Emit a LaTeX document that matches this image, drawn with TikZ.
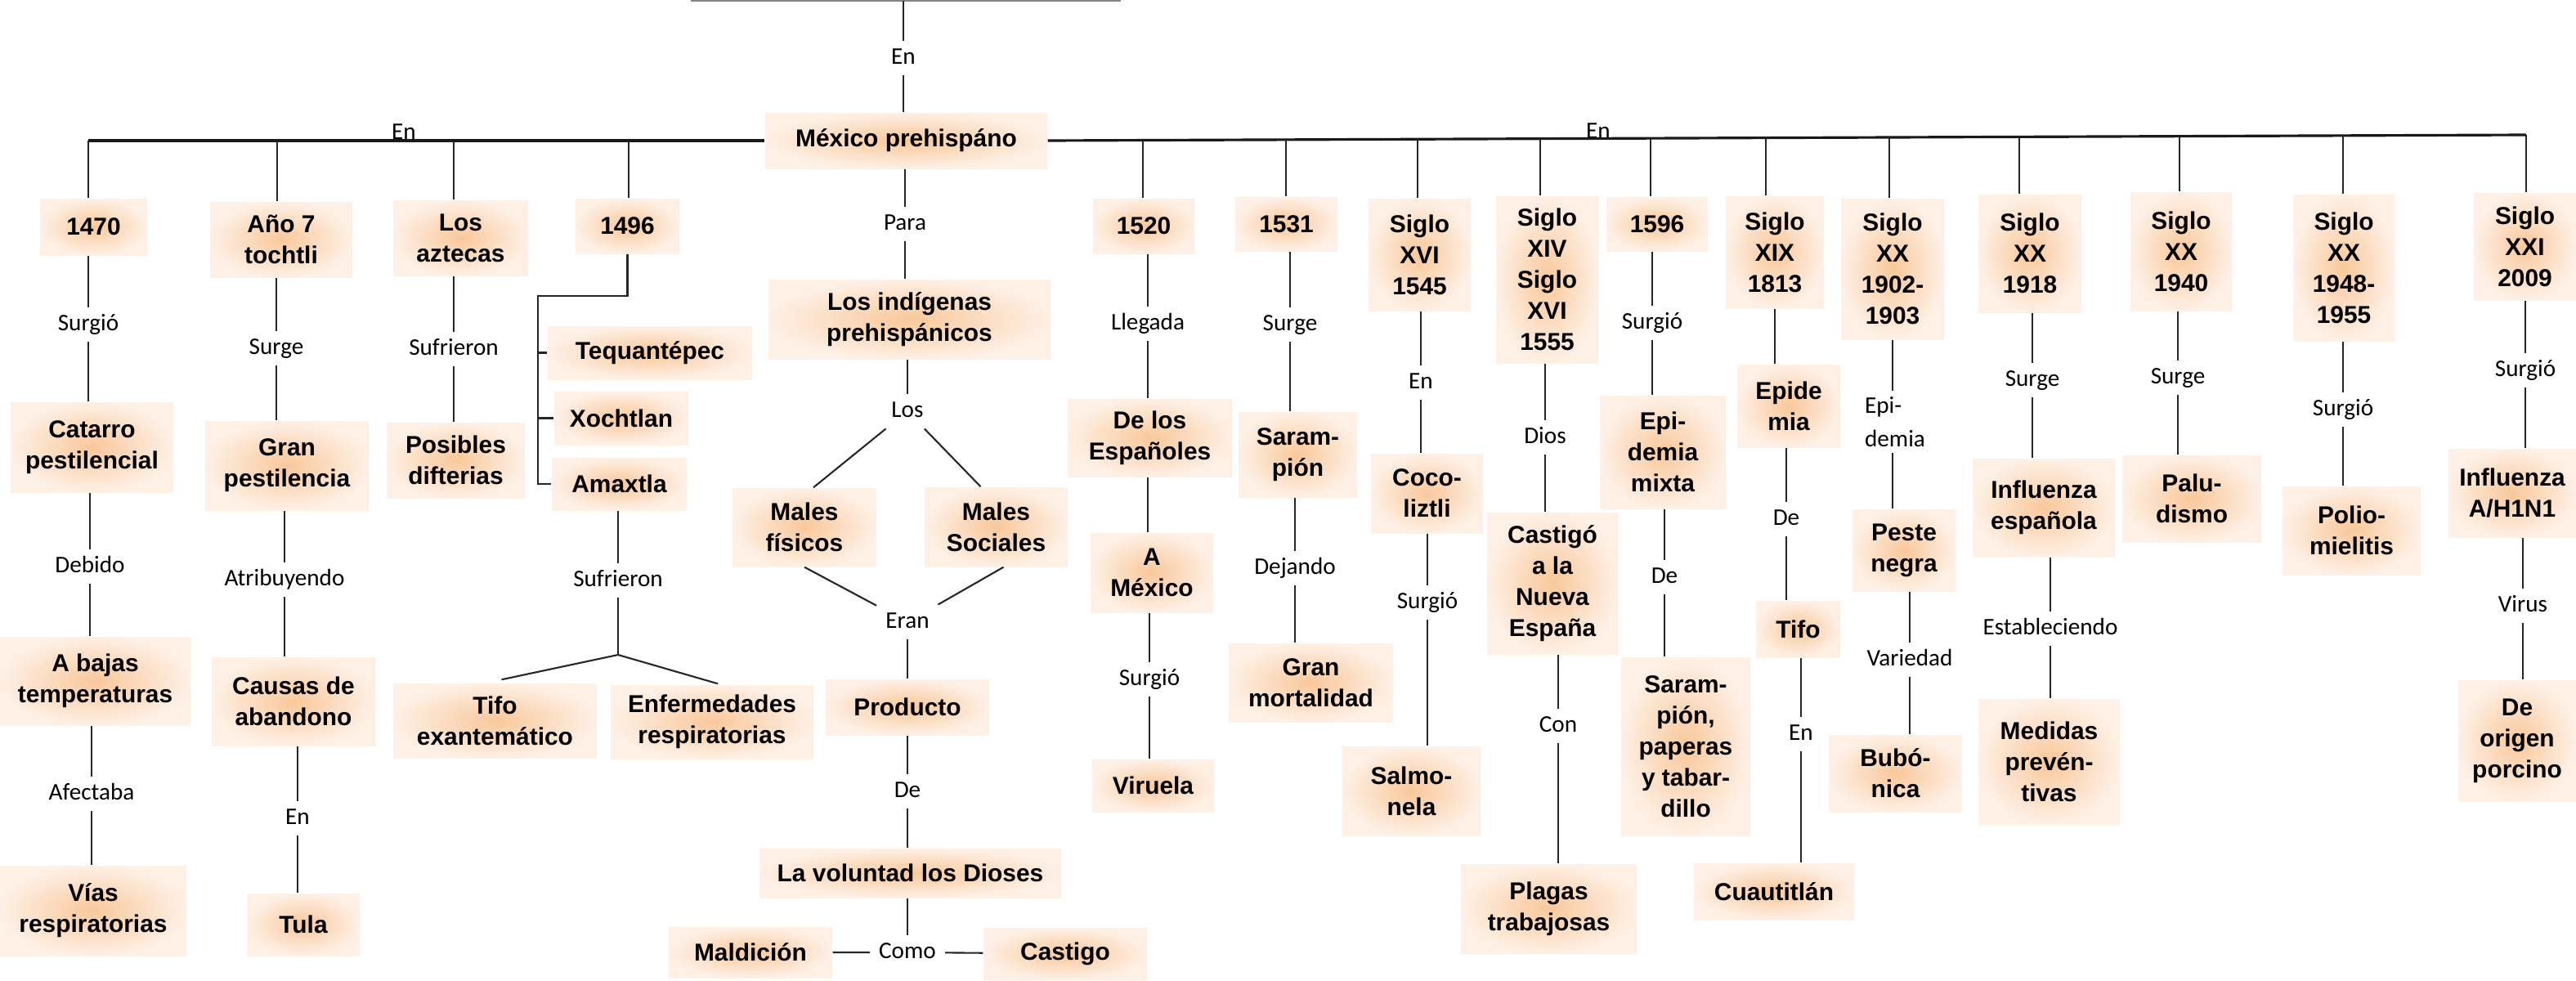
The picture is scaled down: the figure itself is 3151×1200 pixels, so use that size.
\documentclass[tikz,border=0pt]{standalone}
\usepackage{fontspec}
\setmainfont{Liberation Sans}
\newfontfamily\lblfont{Carlito}
\usetikzlibrary{calc}
\definecolor{bxin}{RGB}{249,200,155}
\definecolor{bxout}{RGB}{254,240,229}
\definecolor{topgray}{RGB}{125,135,140}
\tikzset{
  bx/.style={shading=radial, inner color=bxin, outer color=bxout, inner sep=0pt, align=center,
    font=\fontsize{8.5}{10.8}\selectfont\bfseries},
  lb/.style={fill=white, font=\lblfont\fontsize{8.3}{10}\selectfont,
    inner xsep=3pt, inner ysep=2pt, text height=6pt, text depth=1.8pt},
  lbtwo/.style={fill=white, font=\lblfont\fontsize{8.3}{11.7}\selectfont,
    inner xsep=2pt, inner ysep=2pt, align=left},
  lbn/.style={font=\lblfont\fontsize{8.3}{10}\selectfont, inner sep=1pt},
  cn/.style={draw=black!85, line width=0.6pt},
  mainln/.style={draw=black!90, line width=0.9pt},
}
\newcommand\mybox[6]{\node[bx, minimum width={(#4-#3)*0.01cm}, minimum height={(#6-#5)*0.01cm}] (#1) at ({(#3+#4)/2},{-(#5+#6)/2}) {#2};}
\newcommand\mylbl[4]{\node[lb] (#1) at (#3,-#4) {#2};}
\begin{document}
\begin{tikzpicture}[x=0.01cm,y=0.01cm]
\useasboundingbox (0,0) rectangle (3151,-1200);
% top partial box edge
\draw[topgray, line width=0.7pt] (845,-1) -- (1371,-1);
\coordinate (topbox) at (1105,-1);
% ---------- boxes ----------
\mybox{mex}{México prehispáno}{936}{1281}{138}{206}
\mybox{b1470}{1470}{49}{180}{243}{312}
\mybox{bano}{Año 7\\tochtli}{257}{431}{247}{339}
\mybox{bazt}{Los\\aztecas}{481}{646}{245}{337}
\mybox{b1496}{1496}{704}{831}{243}{310}
\mybox{catarro}{Catarro\\pestilencial}{13}{212}{492}{602}
\mybox{abajas}{A bajas\\temperaturas}{0}{233}{779}{887}
\mybox{vias}{Vías\\respiratorias}{0}{228}{1059}{1169}
\mybox{granp}{Gran\\pestilencia}{251}{451}{515}{624}
\mybox{causas}{Causas de\\abandono}{259}{459}{804}{912}
\mybox{tula}{Tula}{302}{440}{1093}{1169}
\mybox{posibles}{Posibles\\difterias}{473}{642}{517}{609}
\mybox{teq}{Tequantépec}{670}{920}{399}{464}
\mybox{xoch}{Xochtlan}{678}{842}{479}{544}
\mybox{amax}{Amaxtla}{675}{840}{560}{624}
\mybox{tifoa}{Tifo\\exantemático}{481}{730}{836}{927}
\mybox{enf}{Enfermedades\\respiratorias}{747}{995}{838}{928}
\mybox{indig}{Los indígenas\\prehispánicos}{940}{1285}{342}{439}
\mybox{mf}{Males\\físicos}{896}{1072}{597}{693}
\mybox{ms}{Males\\Sociales}{1131}{1306}{596}{693}
\mybox{prod}{Producto}{1010}{1210}{831}{899}
\mybox{volu}{La voluntad los Dioses}{929}{1298}{1038}{1098}
\mybox{mald}{Maldición}{818}{1018}{1134}{1196}
\mybox{cast}{Castigo}{1203}{1403}{1135}{1198}
\mybox{b1520}{1520}{1337}{1461}{243}{310}
\mybox{b1531}{1531}{1511}{1636}{241}{307}
\mybox{b1545}{Siglo\\XVI\\1545}{1674}{1799}{243}{380}
\mybox{b1555}{Siglo\\XIV\\Siglo\\XVI\\1555}{1830}{1955}{240}{444}
\mybox{b1596}{1596}{1965}{2089}{241}{307}
\mybox{b1813}{Siglo\\XIX\\1813}{2111}{2231}{240}{377}
\mybox{b1902}{Siglo\\XX\\1902-\\1903}{2252}{2378}{243}{415}
\mybox{b1918}{Siglo\\XX\\1918}{2420}{2546}{238}{382}
\mybox{b1940}{Siglo\\XX\\1940}{2606}{2730}{235}{380}
\mybox{b1948}{Siglo\\XX\\1948-\\1955}{2805}{2929}{238}{417}
\mybox{b2009}{Siglo\\XXI\\2009}{3026}{3151}{236}{367}
\mybox{esp}{De los\\Españoles}{1306}{1507}{488}{583}
\mybox{amex}{A\\México}{1334}{1484}{652}{749}
\mybox{viru}{Viruela}{1336}{1485}{929}{993}
\mybox{saram}{Saram-\\pión}{1515}{1660}{504}{608}
\mybox{granm}{Gran\\mortalidad}{1503}{1704}{787}{883}
\mybox{coco}{Coco-\\liztli}{1677}{1814}{555}{652}
\mybox{salmo}{Salmo-\\nela}{1642}{1811}{913}{1022}
\mybox{castb}{Castigó\\a la\\Nueva\\España}{1819}{1979}{627}{800}
\mybox{plagas}{Plagas\\trabajosas}{1787}{2002}{1057}{1166}
\mybox{epimix}{Epi-\\demia\\mixta}{1957}{2111}{484}{622}
\mybox{sarpap}{Saram-\\pión,\\paperas\\y tabar-\\dillo}{1983}{2141}{804}{1022}
\mybox{epide}{Epide\\mia}{2125}{2251}{446}{547}
\mybox{tifob}{Tifo}{2148}{2251}{735}{804}
\mybox{cuau}{Cuautitlán}{2072}{2268}{1056}{1125}
\mybox{peste}{Peste\\negra}{2266}{2392}{623}{723}
\mybox{bubo}{Bubó-\\nica}{2237}{2400}{899}{993}
\mybox{infesp}{Influenza\\española}{2413}{2587}{561}{681}
\mybox{medidas}{Medidas\\prevén-\\tivas}{2420}{2593}{855}{1008}
\mybox{palu}{Palu-\\dismo}{2596}{2766}{557}{663}
\mybox{polio}{Polio-\\mielitis}{2792}{2961}{595}{703}
\mybox{hn}{Influenza\\A/H1N1}{2995}{3151}{549}{657}
\mybox{porc}{De\\origen\\porcino}{3007}{3151}{832}{980}
% ---------- labels ----------
\mylbl{lEnTop}{En}{1105}{71}
\mylbl{lPara}{Para}{1107}{274}
\mylbl{la}{Surgió}{108}{397}
\mylbl{lb}{Debido}{110}{693}
\mylbl{lc}{Afectaba}{112}{971}
\mylbl{ld}{Surge}{338}{426}
\mylbl{le}{Atribuyendo}{348}{709}
\mylbl{lf}{En}{364}{1001}
\mylbl{lg}{Sufrieron}{555}{427}
\mylbl{lh}{Sufrieron}{756}{710}
\mylbl{lLos}{Los}{1110}{503}
\mylbl{lEran}{Eran}{1110}{761}
\mylbl{lDe}{De}{1110}{968}
\mylbl{lComo}{Como}{1110}{1165}
\mylbl{lLleg}{Llegada}{1404}{396}
\mylbl{lSurgA}{Surgió}{1406}{831}
\mylbl{lSurgeB}{Surge}{1578}{397}
\mylbl{lDej}{Dejando}{1584}{695}
\mylbl{lEnC}{En}{1738}{468}
\mylbl{lSurgC}{Surgió}{1746}{737}
\mylbl{lDios}{Dios}{1890}{535}
\mylbl{lCon}{Con}{1906}{888}
\mylbl{lSurgD}{Surgió}{2021}{395}
\mylbl{lDeD}{De}{2036}{706}
\mylbl{lDeE}{De}{2185}{635}
\mylbl{lEnE}{En}{2203}{898}
\node[lbtwo] (lEpi) at (2318,-516) {Epi-\\demia};
\mylbl{lVar}{Variedad}{2336}{807}
\mylbl{lSurgeF}{Surge}{2486}{465}
\mylbl{lEst}{Estableciendo}{2508}{769}
\mylbl{lSurgeG}{Surge}{2664}{462}
\mylbl{lSurgH}{Surgió}{2866}{501}
\mylbl{lSurgI}{Surgió}{3089}{453}
\mylbl{lVirus}{Virus}{3086}{741}
\node[lbn] (lEnL) at (494,-161) {En};
\node[lbn] (lEnR) at (1955,-160) {En};
% ---------- main line ----------
\coordinate (tl1) at (108,-172);
\coordinate (tl2) at (339,-172);
\coordinate (tl3) at (555,-172);
\coordinate (tl4) at (769,-172);
\coordinate (tr1) at (1398,-171.6);
\coordinate (tr2) at (1573,-170.9);
\coordinate (tr3) at (1734,-170.3);
\coordinate (tr4) at (1884,-169.7);
\coordinate (tr5) at (2019,-169.2);
\coordinate (tr6) at (2160,-168.6);
\coordinate (tr7) at (2311,-168.0);
\coordinate (tr8) at (2470,-167.5);
\coordinate (tr9) at (2666,-166.7);
\coordinate (tr10) at (2866,-165.9);
\coordinate (tr11) at (3090,-165.0);
\draw[mainln] (tl1) -- (mex.west);
\draw[mainln] (mex.east) -- (tr11);
\foreach \c/\b in {tl1/b1470,tl2/bano,tl3/bazt,tl4/b1496,tr1/b1520,tr2/b1531,tr3/b1545,tr4/b1555,tr5/b1596,tr6/b1813,tr7/b1902,tr8/b1918,tr9/b1940,tr10/b1948,tr11/b2009}
  \draw[cn] (\c) -- (\c |- \b.north);
\draw[cn] (topbox) -- (lEnTop) -- (lEnTop |- mex.north);
% ---------- left columns ----------
\draw[cn] (b1470.south -| la) -- (la) -- (la |- catarro.north);
\draw[cn] (catarro.south -| lb) -- (lb) -- (lb |- abajas.north);
\draw[cn] (abajas.south -| lc) -- (lc) -- (lc |- vias.north);
\draw[cn] (bano.south -| ld) -- (ld) -- (ld |- granp.north);
\draw[cn] (granp.south -| le) -- (le) -- (le |- causas.north);
\draw[cn] (causas.south -| lf) -- (lf) -- (lf |- tula.north);
\draw[cn] (bazt.south -| lg) -- (lg) -- (lg |- posibles.north);
\coordinate (brk) at (658,-362);
\draw[cn] (b1496.south) |- (brk) |- (amax.west);
\draw[cn] (brk |- teq.west) -- (teq.west);
\draw[cn] (brk |- xoch.west) -- (xoch.west);
\coordinate (brp) at (756,-801);
\draw[cn] (amax.south -| lh) -- (lh) -- (brp);
\draw[cn] ($(tifoa.north)+(8,4)$) -- (brp) -- ($(enf.north)+(7,1)$);
% ---------- centre ----------
\draw[cn] (mex.south -| lPara) -- (lPara) -- (lPara |- indig.north);
\draw[cn] (indig.south -| lLos) -- (lLos);
\draw[cn] (lLos) -- ($(mf.north)+(11,0)$);
\draw[cn] (lLos) -- ($(ms.north)+(-19,0)$);
\draw[cn] (mf.south) -- (lEran) -- ($(ms.south)+(9,0)$);
\draw[cn] (lEran) -- (lEran |- prod.north);
\draw[cn] (prod.south -| lDe) -- (lDe) -- (lDe |- volu.north);
\draw[cn] (volu.south -| lComo) -- (lComo);
\draw[cn] (mald) -- (lComo) -- (cast);
% ---------- right columns ----------
\draw[cn] (b1520.south -| lLleg) -- (lLleg) -- (lLleg |- esp.north);
\draw[cn] (esp.south -| lLleg) -- (lLleg |- amex.north);
\draw[cn] (amex.south -| lSurgA) -- (lSurgA) -- (lSurgA |- viru.north);
\draw[cn] (b1531.south -| lSurgeB) -- (lSurgeB) -- (lSurgeB |- saram.north);
\draw[cn] (saram.south -| lDej) -- (lDej) -- (lDej |- granm.north);
\draw[cn] (b1545.south -| lEnC) -- (lEnC) -- (lEnC |- coco.north);
\draw[cn] (coco.south -| lSurgC) -- (lSurgC) -- (lSurgC |- salmo.north);
\draw[cn] (b1555.south -| lDios) -- (lDios) -- (lDios |- castb.north);
\draw[cn] (castb.south -| lCon) -- (lCon) -- (lCon |- plagas.north);
\draw[cn] (b1596.south -| lSurgD) -- (lSurgD) -- (lSurgD |- epimix.north);
\draw[cn] (epimix.south -| lDeD) -- (lDeD) -- (lDeD |- sarpap.north);
\draw[cn] (b1813.south) -- (b1813.south |- epide.north);
\draw[cn] (epide.south -| lDeE) -- (lDeE) -- (lDeE |- tifob.north);
\draw[cn] (tifob.south -| lEnE) -- (lEnE) -- (lEnE |- cuau.north);
\draw[cn] (b1902.south) -- (b1902.south |- lEpi.north);
\draw[cn] (lEpi.south -| b1902.south) -- (b1902.south |- peste.north);
\draw[cn] (peste.south -| lVar) -- (lVar) -- (lVar |- bubo.north);
\draw[cn] (b1918.south -| lSurgeF) -- (lSurgeF) -- (lSurgeF |- infesp.north);
\draw[cn] (infesp.south -| lEst) -- (lEst) -- (lEst |- medidas.north);
\draw[cn] (b1940.south -| lSurgeG) -- (lSurgeG) -- (lSurgeG |- palu.north);
\draw[cn] (b1948.south -| lSurgH) -- (lSurgH) -- (lSurgH |- polio.north);
\draw[cn] (b2009.south -| lSurgI) -- (lSurgI) -- (lSurgI |- hn.north);
\draw[cn] (hn.south -| lVirus) -- (lVirus) -- (lVirus |- porc.north);
\end{tikzpicture}
\end{document}
